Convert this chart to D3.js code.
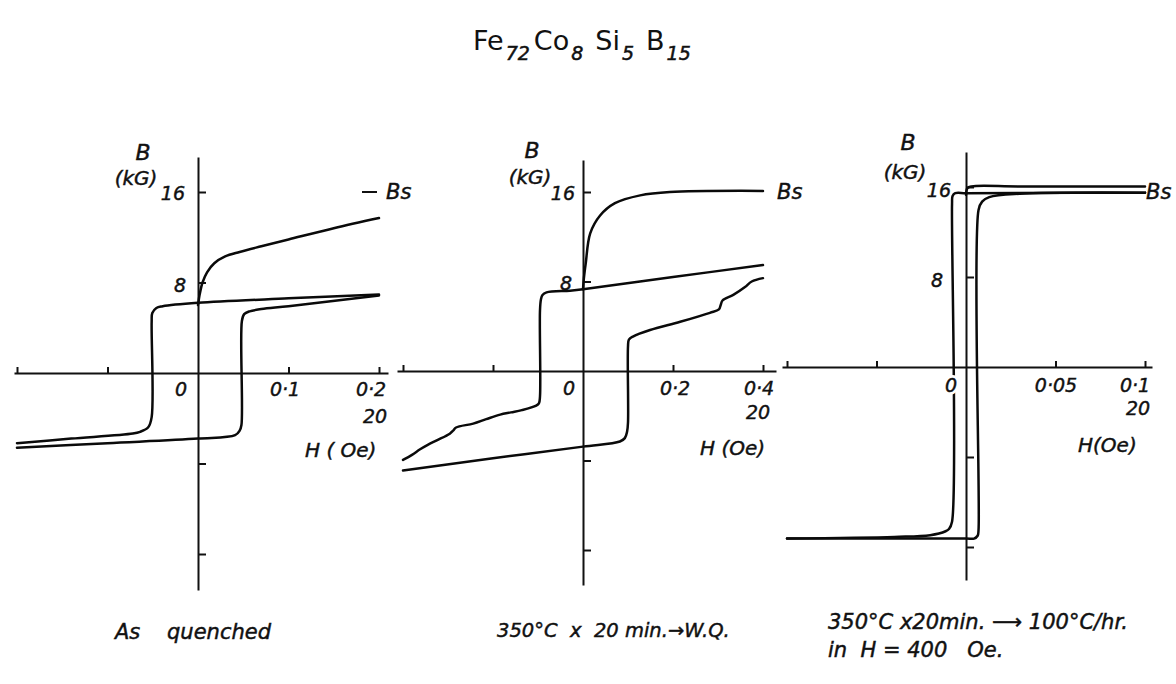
<!DOCTYPE html>
<html>
<head>
<meta charset="utf-8">
<script src="https://cdn.jsdelivr.net/npm/d3@7"></script>
<style>
  html, body { margin: 0; padding: 0; background: #fff; }
  svg { display: block; }
  .lbl { font-family: "DejaVu Sans", sans-serif; font-style: oblique; fill: #111; stroke: #111; stroke-width: 0.45px; }
  .title { font-family: "DejaVu Sans", sans-serif; fill: #111; }
</style>
</head>
<body>
<svg id="chart" width="1176" height="684"></svg>
<script>
// ---- Data: B (kG) versus H (Oe) hysteresis traces of Fe72Co8Si5B15 ----

// As quenched
const asQuenchedInitial = [[0,6.0],[0.002,7.0],[0.005,8.0],[0.01,8.9],[0.018,9.7],[0.03,10.3],[0.046,10.7],[0.07,11.2],[0.1,11.8],[0.15,12.8],[0.2,13.7]];
const asQuenchedDescending = [[0.2,6.95],[0.1,6.6],[0,6.2],[-0.039,5.9],[-0.046,5.75],[-0.0505,5.3],[-0.0512,4.5],[-0.0512,-3.9],[-0.055,-4.8],[-0.064,-5.2],[-0.072,-5.35],[-0.14,-5.8],[-0.2,-6.2]];
const asQuenchedAscending = [[-0.2,-6.6],[-0.1,-6.2],[0,-5.8],[0.041,-5.5],[0.046,-5.1],[0.048,-4.6],[0.0485,4.6],[0.051,5.2],[0.057,5.45],[0.07,5.65],[0.1,5.9],[0.2,6.85]];

// 350°C x 20 min, water quenched
const wqInitial = [[0,7.3],[0.002,8.3],[0.006,9.6],[0.016,12.3],[0.038,13.9],[0.071,15.0],[0.127,15.7],[0.193,16.0],[0.4,16.1]];
const wqDescending = [[0.4,9.47],[0.2,8.4],[0,7.3],[-0.029,7.18],[-0.081,7.03],[-0.09,6.8],[-0.0935,6.4],[-0.0956,5.4],[-0.0956,-2.3],[-0.098,-2.9],[-0.104,-3.1],[-0.136,-3.5],[-0.16,-3.7],[-0.184,-3.9],[-0.215,-4.3],[-0.244,-4.7],[-0.282,-5.05],[-0.288,-5.3],[-0.296,-5.6],[-0.325,-6.2],[-0.345,-6.6],[-0.362,-7.0],[-0.38,-7.5],[-0.4,-7.95]];
const wqAscending = [[-0.4,-8.9],[-0.2,-7.8],[0,-6.76],[0.082,-6.3],[0.093,-6.0],[0.098,-5.4],[0.1,-4.6],[0.1,2.2],[0.102,2.8],[0.112,3.1],[0.149,3.66],[0.216,4.4],[0.282,5.2],[0.302,5.5],[0.306,5.9],[0.31,6.3],[0.334,6.8],[0.36,7.5],[0.375,8.0],[0.4,8.3]];

// 350°C x 20 min, cooled 100°C/hr in H = 400 Oe
const fieldInitial = [[0,15.3],[0.0008,15.9],[0.003,16.05],[0.03,16.05],[0.1,16.05]];
const fieldDescending = [[0.1,15.5],[0.03,15.47],[0,15.45],[-0.006,15.45],[-0.0075,15.2],[-0.0078,14.5],[-0.0078,-13.75],[-0.0095,-14.4],[-0.0114,-14.6],[-0.02,-14.95],[-0.04,-15.1],[-0.1,-15.25]];
const fieldAscending = [[-0.1,-15.25],[0,-15.25],[0.0045,-15.25],[0.0065,-15.0],[0.007,-14.5],[0.007,13.96],[0.009,14.7],[0.013,15.1],[0.03,15.4],[0.1,15.5]];

// Axis ticks
const asQuenchedHTicks = [-0.2, -0.1, 0.1, 0.2];
const wqHTicks = [-0.4, -0.2, 0.2, 0.4];
const fieldHTicks = [-0.1, -0.05, 0.05, 0.1];
const bTicks = [-16, -8, 8, 16];

// Tick labels
const asQuenchedHLabels = ["0", "0·1", "0·2"];
const wqHLabels = ["0", "0·2", "0·4"];
const fieldHLabels = ["0", "0·05", "0·1"];
const bLabels = ["16", "8"];
const conditionLabels = ["As    quenched", "350°C  x  20 min.→W.Q.", "350°C x20min. ⟶ 100°C/hr.", "in  H = 400   Oe."];

// ---- Drawing ----
const svg = d3.select("#chart");

const panels = [
  { curves: [asQuenchedInitial, asQuenchedDescending, asQuenchedAscending], hTicks: asQuenchedHTicks, hLabels: asQuenchedHLabels,
    hDomain: [-0.2, 0.2], hRange: [17, 379], hExtent: [14, 388],
    bRange: [554, 192], bExtent: [157, 590],
    text: { B: [143, 152], kG: [136, 178], b16: [185, 193], b8: [186, 285], hy: 389, hx: [181, 285, 371], mult: [375, 416], unit: [305, 450, "H ( Oe)"], bs: [386, 192], dash: [362, 377] } },
  { curves: [wqInitial, wqDescending, wqAscending], hTicks: wqHTicks, hLabels: wqHLabels,
    hDomain: [-0.4, 0.4], hRange: [403, 763], hExtent: [397, 776],
    bRange: [550, 192], bExtent: [160, 585],
    text: { B: [532, 150], kG: [530, 177], b16: [575, 193], b8: [572, 283], hy: 388, hx: [569, 675, 759], mult: [758, 412], unit: [700, 448, "H (Oe)"], bs: [777, 192] } },
  { curves: [fieldInitial, fieldDescending, fieldAscending], hTicks: fieldHTicks, hLabels: fieldHLabels,
    hDomain: [-0.1, 0.1], hRange: [787, 1145], hExtent: [782, 1152],
    bRange: [547, 187], bExtent: [152, 580],
    text: { B: [908, 142], kG: [905, 172], b16: [951, 190], b8: [943, 280], hy: 385, hx: [951, 1056, 1135], mult: [1138, 408], unit: [1078, 445, "H(Oe)"], bs: [1146, 192] } }
];

panels.forEach(p => {
  const x = d3.scaleLinear().domain(p.hDomain).range(p.hRange);
  const y = d3.scaleLinear().domain([-16, 16]).range(p.bRange);
  const x0 = x(0), y0 = y(0);
  const g = svg.append("g");

  // H axis: a line through B = 0 with ticks pointing up
  const hAxisScale = d3.scaleLinear().domain(p.hExtent.map(x.invert)).range(p.hExtent);
  g.append("g")
    .attr("transform", `translate(0,${y0})`)
    .call(d3.axisTop(hAxisScale).tickValues(p.hTicks).tickSize(6).tickSizeOuter(0).tickFormat(""))
    .call(a => a.selectAll("path,line").attr("stroke", "#111").attr("stroke-width", 2));

  // B axis: a line through H = 0 with ticks pointing right
  const bAxisScale = d3.scaleLinear().domain(p.bExtent.map(y.invert)).range(p.bExtent);
  g.append("g")
    .attr("transform", `translate(${x0},0)`)
    .call(d3.axisRight(bAxisScale).tickValues(bTicks).tickSize(8).tickSizeOuter(0).tickFormat(""))
    .call(a => a.selectAll("path,line").attr("stroke", "#111").attr("stroke-width", 2));

  // Traces
  const line = d3.line().x(d => x(d[0])).y(d => y(d[1])).curve(d3.curveCatmullRom.alpha(0.5));
  p.curves.forEach(c => {
    g.append("path").attr("d", line(c)).attr("fill", "none")
      .attr("stroke", "#0a0a0a").attr("stroke-width", 2.5)
      .attr("stroke-linejoin", "round").attr("stroke-linecap", "round");
  });

  const t = p.text;
  const label = (txt, px, py, size, anchor, halo) => {
    if (halo) {
      g.append("text").attr("class", "lbl").attr("x", px).attr("y", py)
        .attr("font-size", size).attr("text-anchor", anchor || "start")
        .attr("dominant-baseline", "central").text(txt)
        .style("stroke", "#fff").style("stroke-width", "6px").style("fill", "#fff");
    }
    return g.append("text").attr("class", "lbl").attr("x", px).attr("y", py)
      .attr("font-size", size).attr("text-anchor", anchor || "start")
      .attr("dominant-baseline", "central").text(txt);
  };
  label("B", t.B[0], t.B[1], 22, "middle");
  label("(kG)", t.kG[0], t.kG[1], 20, "middle");
  label(bLabels[0], t.b16[0], t.b16[1], 19, "end");
  label(bLabels[1], t.b8[0], t.b8[1], 19, "end");
  p.hLabels.forEach((s, i) => label(s, t.hx[i], t.hy, 19, "middle", i === 0));
  label("20", t.mult[0], t.mult[1], 19, "middle");
  label(t.unit[2], t.unit[0], t.unit[1], 20, "start");
  if (t.dash) {
    g.append("line").attr("x1", t.dash[0]).attr("x2", t.dash[1]).attr("y1", y(16)).attr("y2", y(16))
      .attr("stroke", "#111").attr("stroke-width", 2);
  }
  label("Bs", t.bs[0], t.bs[1], 21, "start");
});

// Composition title
const title = svg.append("text").attr("class", "title").attr("x", 473).attr("y", 50).attr("font-size", 27);
const parts = [["Fe", "72"], ["Co", "8"], ["Si", "5"], ["B", "15"]];
const gaps = [0, 4, 12, 12];
parts.forEach((pr, i) => {
  title.append("tspan").attr("dx", gaps[i]).attr("dy", i === 0 ? 0 : -10).text(pr[0]);
  title.append("tspan").attr("dx", 2).attr("dy", 10).attr("font-size", 19)
    .attr("font-style", "oblique").attr("stroke", "#111").attr("stroke-width", 0.5).text(pr[1]);
});

// Treatment captions
const cap = (txt, px, py, size) => svg.append("text").attr("class", "lbl").attr("x", px).attr("y", py)
  .attr("font-size", size).attr("dominant-baseline", "central")
  .style("white-space", "pre").text(txt);
cap(conditionLabels[0], 115, 632, 21);
cap(conditionLabels[1], 497, 630, 19.5);
cap(conditionLabels[2], 828, 622, 21);
cap(conditionLabels[3], 828, 650, 21);
</script>
</body>
</html>
